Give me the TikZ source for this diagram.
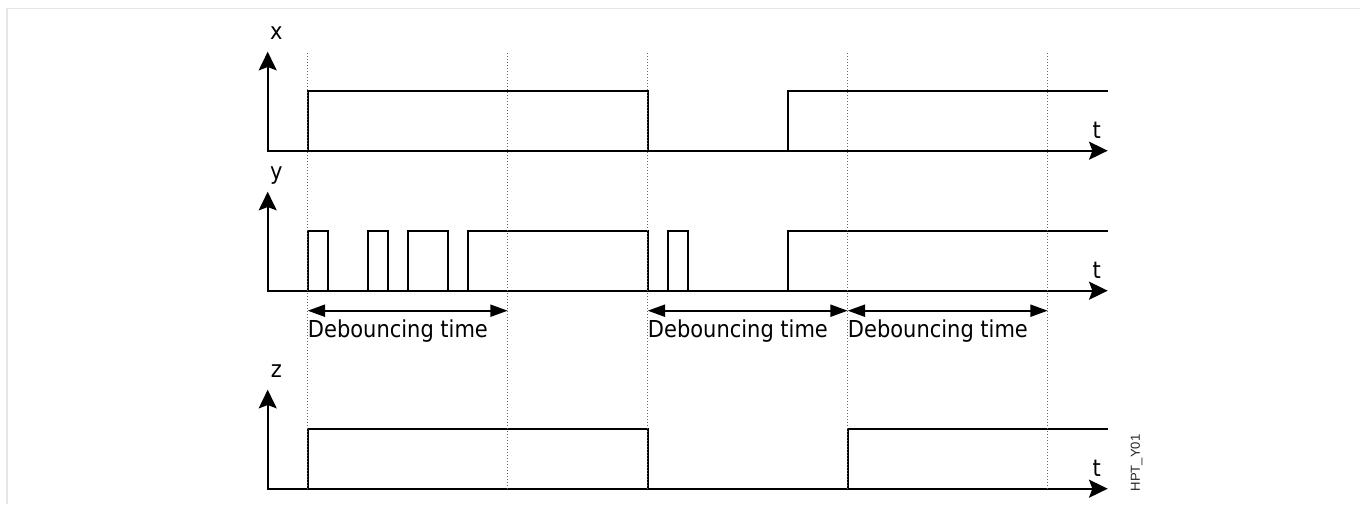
\documentclass[tikz,border=0pt]{standalone}
\usepackage{fontspec}
\setmainfont{DejaVu Sans Condensed}
\newfontfamily\tagfont{Liberation Sans}
\usetikzlibrary{arrows.meta}
\tikzset{
  taxis/.style={{Stealth[length=14pt,width=13.5pt,inset=2.5pt]}-{Stealth[length=14pt,width=13.5pt,inset=2.5pt]},line width=1.5pt},
  sig/.style={line width=1.5pt},
  vgrid/.style={line width=0.75pt,black!60,dash pattern=on 0.75pt off 1.5pt},
  dbarr/.style={{Triangle[length=13pt,width=9pt]}-{Triangle[length=13pt,width=9pt]},line width=1.5pt},
  lbl/.style={font=\fontsize{17.5}{20}\selectfont,inner sep=0pt},
  frm/.style={line width=1.1pt,black!10},
}

\begin{document}
\begin{tikzpicture}[x=15pt,y=15pt]
  \useasboundingbox (-13.385,-0.765) rectangle (54.615,24.435);
  \draw[frm] (-13.035,-0.765) -- (-13.035,24.01) -- (54.615,24.01);
  % axes for x, y and z
  \foreach \b/\n in {16.9/x,9.9/y,0/z}{
    \draw[taxis] (0,\b+4.95) |- (42,\b);
    \node[lbl,anchor=base] (lbl\n) at (0.43,\b+5.57) {\n};
    \node[lbl,anchor=base] (t\n) at (41.45,\b+0.62) {t};
  }
  % input x
  \draw[sig] (2,16.9) -- (2,19.9) -- (19,19.9) -- (19,16.9);
  \draw[sig] (26,16.9) -- (26,19.9) -- (42,19.9);
  % bouncing input y
  \foreach \a/\e in {2/3,5/6,7/9,10/19,20/21}
    \draw[sig] (\a,9.9) -- (\a,12.9) -- (\e,12.9) -- (\e,9.9);
  \draw[sig] (26,9.9) -- (26,12.9) -- (42,12.9);
  % debounced output z
  \draw[sig] (2,0) -- (2,3) -- (19,3) -- (19,0);
  \draw[sig] (29,0) -- (29,3) -- (42,3);
  % dotted time marks
  \foreach \s in {2,12,19,29,39}
    \draw[vgrid] (\s,0) -- (\s,21.85);
  % debouncing intervals
  \coordinate (d1a) at (2,8.9);  \coordinate (d1b) at (12,8.9);
  \coordinate (d2a) at (19,8.9); \coordinate (d2b) at (29,8.9);
  \coordinate (d3a) at (29,8.9); \coordinate (d3b) at (39,8.9);
  \draw[dbarr] (d1a) -- (d1b);
  \draw[dbarr] (d2a) -- (d2b);
  \draw[dbarr] (d3a) -- (d3b);
  \node[lbl,anchor=base west] (d1txt) at (2,7.55) {Debouncing time};
  \node[lbl,anchor=base west] (d2txt) at (19,7.55) {Debouncing time};
  \node[lbl,anchor=base west] (d3txt) at (29,7.55) {Debouncing time};
  \node[font=\tagfont\fontsize{9.8}{11}\selectfont,text=black!85,rotate=90,inner sep=0pt] (tag) at (43.45,1.285) {HPT\_Y01};
\end{tikzpicture}
\end{document}
